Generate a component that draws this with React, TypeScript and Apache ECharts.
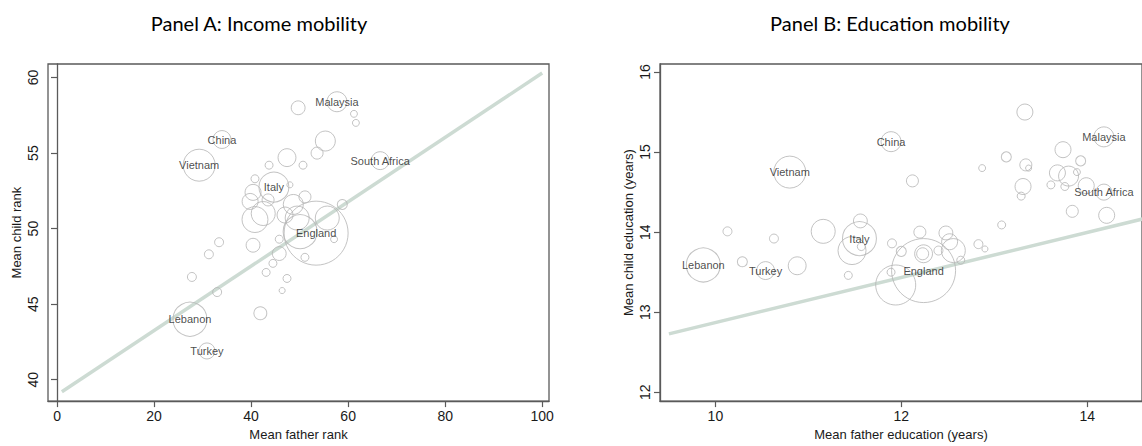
import React, { useEffect, useRef } from "react";
import * as echarts from "echarts";

// Panel A: income mobility
const aFather = [57.7, 49.7, 61.2, 61.6, 34.0, 29.3, 55.3, 53.6, 47.4, 50.7, 43.7, 44.7, 40.8, 48.0, 40.4, 39.8, 40.8, 48.7, 49.5, 42.5, 58.8, 53.4, 50.1, 55.7, 40.4, 33.4, 31.3, 27.8, 33.0, 45.8, 44.5, 43.1, 47.4, 46.4, 41.9, 45.8, 51.1, 57.1, 27.4, 30.9, 66.6, 43.5, 51.1, 47.0];
const aChild = [58.4, 58.0, 57.6, 57.0, 55.9, 54.2, 55.8, 55.0, 54.7, 54.2, 54.2, 52.75, 53.3, 52.9, 52.4, 51.8, 50.6, 51.6, 50.7, 51.0, 51.6, 49.7, 49.8, 50.7, 48.9, 49.1, 48.3, 46.8, 45.8, 48.35, 47.7, 47.1, 46.7, 45.9, 44.4, 49.3, 48.1, 49.3, 44.0, 41.9, 54.5, 51.9, 52.1, 50.9];
const aWeight = [25, 12, 3, 3, 20, 64, 25, 9, 20, 4, 4, 56, 4, 2.3, 16, 16, 42, 25, 36, 36, 6.3, 256, 72, 36, 12, 5, 5, 5, 5, 12, 4, 4, 4, 2.3, 10.5, 4, 4, 3, 72, 16, 20, 9, 9, 16];
const aNames = ["Malaysia", "", "", "", "China", "Vietnam", "", "", "", "", "", "Italy", "", "", "", "", "", "", "", "", "", "England", "", "", "", "", "", "", "", "", "", "", "", "", "", "", "", "", "Lebanon", "Turkey", "South Africa", "", "", ""];
const aFit = [[1, 39.2], [100, 60.3]];

// Panel B: education mobility
const bFather = [10.80, 10.13, 10.63, 11.16, 9.87, 10.29, 10.54, 10.88, 11.43, 11.55, 11.47, 11.56, 11.57, 12.24, 11.94, 12.24, 12.23, 12.20, 12.48, 12.52, 12.56, 11.90, 12.00, 12.40, 12.64, 12.83, 12.90, 13.08, 11.89, 12.12, 13.33, 13.13, 12.87, 13.34, 13.37, 13.31, 13.29, 14.18, 13.74, 13.93, 13.89, 13.68, 13.80, 13.61, 13.76, 14.18, 13.99, 13.84, 14.21, 11.89];
const bChild = [14.75, 14.01, 13.92, 14.01, 13.59, 13.63, 13.52, 13.58, 13.46, 13.92, 13.77, 14.14, 13.82, 13.52, 13.34, 13.73, 13.73, 14.00, 13.99, 13.88, 13.77, 13.86, 13.76, 13.77, 13.65, 13.85, 13.79, 14.09, 15.13, 14.64, 15.50, 14.94, 14.80, 14.84, 14.80, 14.57, 14.45, 15.19, 15.03, 14.89, 14.75, 14.74, 14.70, 14.59, 14.57, 14.50, 14.58, 14.26, 14.21, 13.50];
const bWeight = [64, 5, 5, 36, 72, 6.3, 20, 20, 4, 72, 49, 12, 4, 256, 100, 20, 9, 9, 12, 16, 36, 5, 6.3, 5, 4, 5, 2.3, 4, 25, 9, 16, 6.3, 3, 9, 2.3, 16, 4, 25, 16, 6.3, 3, 16, 25, 4, 4, 16, 16, 9, 16, 4];
const bNames = ["Vietnam", "", "", "", "Lebanon", "", "Turkey", "", "", "Italy", "", "", "", "England", "", "", "", "", "", "", "", "", "", "", "", "", "", "", "China", "", "", "", "", "", "", "", "", "Malaysia", "", "", "", "", "", "", "", "South Africa", "", "", "", ""];
const bFit = [[9.5, 12.73], [14.6, 14.165]];

const aXTicks = [0, 20, 40, 60, 80, 100];
const aYTicks = [40, 45, 50, 55, 60];
const bXTicks = [10, 12, 14];
const bYTicks = [12, 13, 14, 15, 16];

const AXIS_COLOR = "#5a5a5a";
const TEXT_COLOR = "#1a1a1a";
const FONT = "Arial";

function buildPoints(xs: number[], ys: number[], ws: number[], names: string[]) {
  return xs.map((x, i) => ({
    value: [x, ys[i], ws[i]],
    name: names[i],
    label: { show: names[i] !== "" },
  }));
}

function xAxisDef(gridIndex: number, min: number, max: number, ticks: number[], name: string, nameGap: number) {
  return {
    type: "value",
    gridIndex,
    min,
    max,
    name,
    nameLocation: "middle",
    nameGap,
    nameTextStyle: { color: TEXT_COLOR, fontSize: 13, fontFamily: FONT },
    splitLine: { show: false },
    axisLine: { show: true, lineStyle: { color: AXIS_COLOR, width: 1.3 } },
    axisTick: { show: true, length: 6, customValues: ticks, lineStyle: { color: AXIS_COLOR, width: 1.2 } },
    axisLabel: { customValues: ticks, color: TEXT_COLOR, fontSize: 14, fontFamily: FONT, margin: 8 },
  };
}

function yAxisDef(gridIndex: number, min: number, max: number, ticks: number[], name: string) {
  return {
    type: "value",
    gridIndex,
    min,
    max,
    name,
    nameLocation: "middle",
    nameGap: 25,
    nameTextStyle: { color: TEXT_COLOR, fontSize: 13, fontFamily: FONT },
    splitLine: { show: false },
    axisLine: { show: true, lineStyle: { color: AXIS_COLOR, width: 1.3 } },
    axisTick: { show: true, length: 6, customValues: ticks, lineStyle: { color: AXIS_COLOR, width: 1.2 } },
    axisLabel: { customValues: ticks, rotate: 90, color: TEXT_COLOR, fontSize: 14, fontFamily: FONT, margin: 8 },
  };
}

const bubbleStyle = {
  color: "rgba(0,0,0,0)",
  borderColor: "#b4b4b4",
  borderWidth: 1,
};

const bubbleLabel = {
  position: "inside",
  color: TEXT_COLOR,
  fontSize: 11,
  fontFamily: FONT,
};

export default function App() {
  const ref = useRef<HTMLDivElement>(null);

  useEffect(() => {
    if (!ref.current) return;
    const chart = echarts.init(ref.current, null, { renderer: "svg" });
    const option = {
      animation: false,
      backgroundColor: "#fff",
      graphic: [
        {
          type: "text",
          x: 259,
          y: 23,
          style: {
            text: "Panel A: Income mobility",
            fill: "#000",
            font: "20px Lato, 'Noto Sans', sans-serif",
            textAlign: "center",
            textVerticalAlign: "middle",
          },
        },
        {
          type: "text",
          x: 890,
          y: 23,
          style: {
            text: "Panel B: Education mobility",
            fill: "#000",
            font: "20px Lato, 'Noto Sans', sans-serif",
            textAlign: "center",
            textVerticalAlign: "middle",
          },
        },
      ],
      grid: [
        { left: 48, top: 64, width: 501, height: 345, show: true, borderColor: AXIS_COLOR, borderWidth: 1.3, backgroundColor: "transparent" },
        { left: 660, top: 64, width: 494, height: 339.3, show: true, borderColor: AXIS_COLOR, borderWidth: 1.3, backgroundColor: "transparent" },
      ],
      xAxis: [
        xAxisDef(0, -1.86, 101.4, aXTicks, "Mean father rank", 22),
        xAxisDef(1, 9.404, 14.59, bXTicks, "Mean father education (years)", 23),
      ],
      yAxis: [
        yAxisDef(0, 38.58, 60.9, aYTicks, "Mean child rank"),
        yAxisDef(1, 11.89, 16.1, bYTicks, "Mean child education (years)"),
      ],
      series: [
        {
          type: "line",
          xAxisIndex: 0,
          yAxisIndex: 0,
          data: aFit,
          showSymbol: false,
          silent: true,
          lineStyle: { color: "#cddbd3", width: 3.5 },
          z: 1,
        },
        {
          type: "line",
          xAxisIndex: 1,
          yAxisIndex: 1,
          data: bFit,
          showSymbol: false,
          silent: true,
          lineStyle: { color: "#cddbd3", width: 3.5 },
          z: 1,
        },
        {
          type: "scatter",
          xAxisIndex: 0,
          yAxisIndex: 0,
          data: buildPoints(aFather, aChild, aWeight, aNames),
          symbolSize: (v: number[]) => 4 * Math.sqrt(v[2]),
          itemStyle: bubbleStyle,
          label: { ...bubbleLabel, formatter: "{b}" },
          z: 2,
        },
        {
          type: "scatter",
          xAxisIndex: 1,
          yAxisIndex: 1,
          data: buildPoints(bFather, bChild, bWeight, bNames),
          symbolSize: (v: number[]) => 4 * Math.sqrt(v[2]),
          itemStyle: bubbleStyle,
          label: { ...bubbleLabel, formatter: "{b}" },
          clip: false,
          z: 2,
        },
      ],
    };
    chart.setOption(option as any);
    return () => chart.dispose();
  }, []);

  return (
    <div
      ref={ref}
      style={{ position: "absolute", left: 0, top: 0, width: 1142, height: 446 }}
    />
  );
}
